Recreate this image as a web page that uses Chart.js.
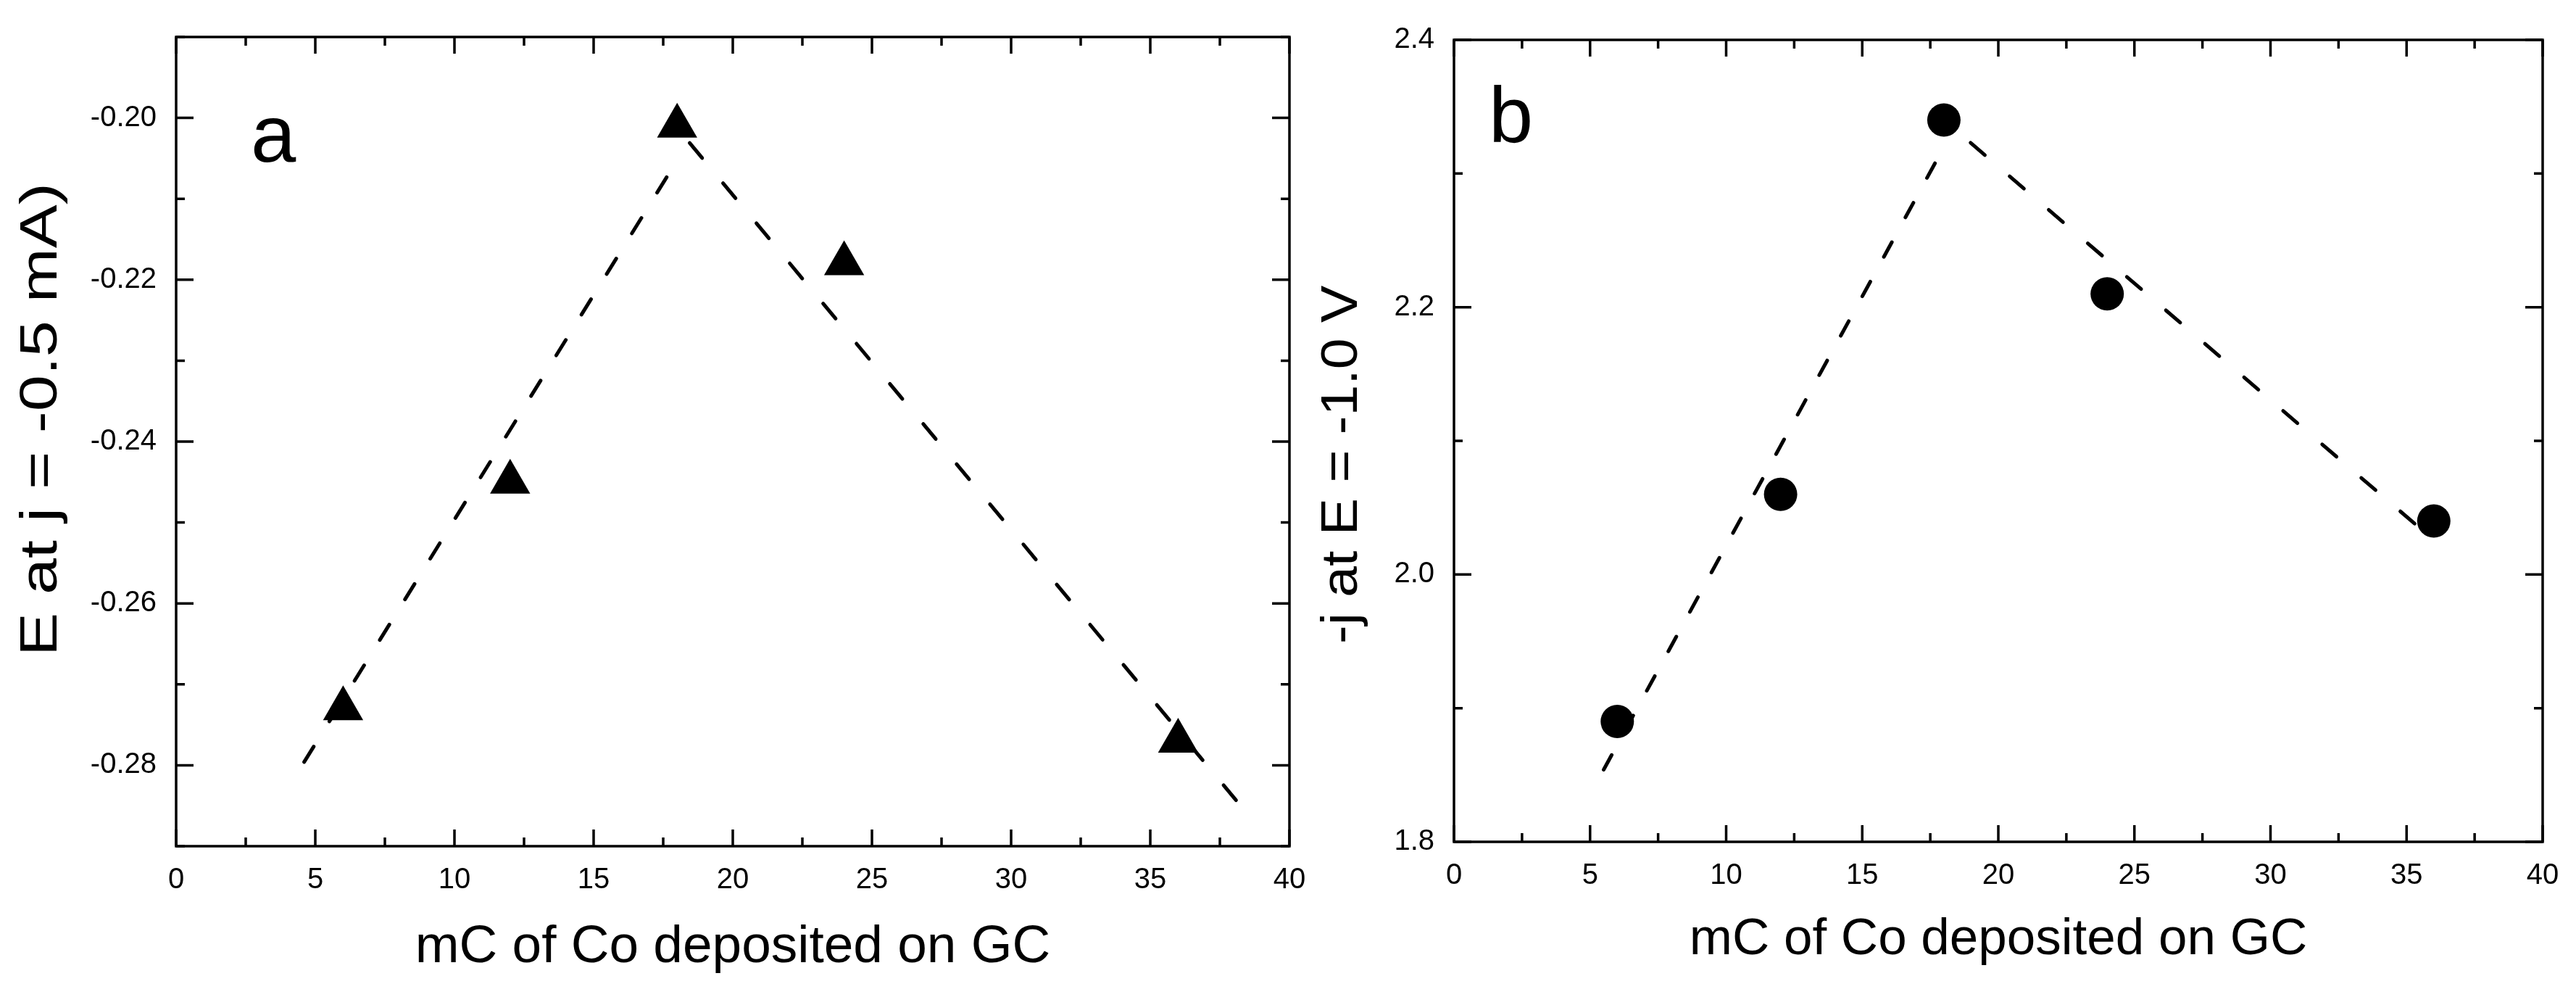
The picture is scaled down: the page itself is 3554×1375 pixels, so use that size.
<!DOCTYPE html>
<html><head><meta charset="utf-8">
<script src="https://cdn.jsdelivr.net/npm/chart.js@4.4.1/dist/chart.umd.min.js"></script>
<style>
html,body{margin:0;padding:0;background:#fff;}
#wrap{position:relative;width:3554px;height:1375px;overflow:hidden;background:#fff;}
canvas{position:absolute;left:0;top:0;}
</style></head><body>
<div id="wrap"><canvas id="ca" width="3554" height="1375"></canvas><canvas id="cb" width="3554" height="1375"></canvas></div>
<script>
const FONT = '"Liberation Sans", Arial, Helvetica, sans-serif';

// ---- data ----
const chargeMC = [6, 12, 18, 24, 36];                       // mC of Co deposited on GC
const potentialE = [-0.273, -0.245, -0.201, -0.218, -0.277]; // panel a: E at j = -0.5 mA
const currentJ = [1.89, 2.06, 2.34, 2.21, 2.04];            // panel b: -j at E = -1.0 V

// dashed guide lines (two segments per panel)
const fitARiseX = [4.6, 17.9],   fitARiseY = [-0.2796, -0.2058];
const fitAFallX = [18.45, 38.1], fitAFallY = [-0.2031, -0.2844];
const fitBRiseX = [5.5, 17.95],  fitBRiseY = [1.854, 2.318];
const fitBFallX = [18.98, 35.7], fitBFallY = [2.323, 2.031];

// axes
const xMin = 0, xMax = 40, xStep = 2.5, xMajorEvery = 5;
const yMinA = -0.29, yMaxA = -0.19, yStepA = 0.01;
const yMinB = 1.8, yMaxB = 2.4, yStepB = 0.1;

const xTitle = 'mC of Co deposited on GC';
const yTitleA = 'E at j = -0.5 mA)';
const yTitleB = '-j at E = -1.0 V';
const panelA = 'a', panelB = 'b';

// ---- helpers ----
const pts = (xs, ys) => xs.map((x, i) => ({x: x, y: ys[i]}));
const isMajorX = v => Math.abs(v / xMajorEvery - Math.round(v / xMajorEvery)) < 1e-6;
const isMajorYA = v => Math.abs(Math.round(v * 100)) % 2 === 0;
const isMajorYB = v => Math.abs(Math.round(v * 10)) % 2 === 0;

const frame = {
  id: 'frame',
  afterDatasetsDraw(chart, args, o) {
    const {ctx, chartArea: a} = chart;
    const x = chart.scales.x, y = chart.scales.y;
    ctx.save();
    ctx.strokeStyle = '#000';
    ctx.lineCap = 'butt';
    ctx.lineWidth = 3.5;
    x.ticks.forEach(t => {
      const p = x.getPixelForValue(t.value);
      const L = o.isMajorX(t.value) ? 23 : 12;
      ctx.beginPath();
      ctx.moveTo(p, a.bottom); ctx.lineTo(p, a.bottom - L);
      ctx.moveTo(p, a.top); ctx.lineTo(p, a.top + L);
      ctx.stroke();
    });
    y.ticks.forEach(t => {
      const p = y.getPixelForValue(t.value);
      const L = o.isMajorY(t.value) ? 24 : 12;
      ctx.beginPath();
      ctx.moveTo(a.left, p); ctx.lineTo(a.left + L, p);
      ctx.moveTo(a.right, p); ctx.lineTo(a.right - L, p);
      ctx.stroke();
    });
    ctx.strokeRect(a.left, a.top, a.right - a.left, a.bottom - a.top);
    // y title (reads bottom to top, glyphs elongated along the text as in the original)
    ctx.fillStyle = '#000';
    ctx.font = o.yTitleSize + 'px ' + FONT;
    ctx.textAlign = 'left';
    ctx.textBaseline = 'alphabetic';
    ctx.translate(o.yTitleX, o.yTitleStartY);
    ctx.rotate(-Math.PI / 2);
    ctx.scale(o.yTitleStretch, 1);
    ctx.fillText(o.yTitle, 0, 0);
    ctx.setTransform(1, 0, 0, 1, 0, 0);
    // panel letter
    ctx.font = o.panelSize + 'px ' + FONT;
    ctx.textAlign = 'left';
    ctx.fillText(o.panel, a.left + o.panelDX, a.top + o.panelDY);
    ctx.restore();
  }
};

function makeChart(id, cfg) {
  return new Chart(document.getElementById(id), {
    type: 'scatter',
    data: {
      datasets: [
        {data: pts(chargeMC, cfg.values), pointStyle: cfg.marker, pointRadius: cfg.markerR,
         pointHoverRadius: cfg.markerR, backgroundColor: '#000', borderColor: '#000',
         borderWidth: 0, showLine: false, order: 0},
        {type: 'line', data: pts(cfg.riseX, cfg.riseY), borderColor: '#000', borderWidth: 5,
         borderDash: cfg.dashRise, borderCapStyle: 'round', pointRadius: 0, fill: false, order: 1},
        {type: 'line', data: pts(cfg.fallX, cfg.fallY), borderColor: '#000', borderWidth: 5,
         borderDash: cfg.dashFall, borderCapStyle: 'round', pointRadius: 0, fill: false, order: 1}
      ]
    },
    options: {
      responsive: false, animation: false, devicePixelRatio: 1,
      layout: {padding: cfg.padding},
      plugins: {legend: {display: false}, tooltip: {enabled: false},
        frame: {isMajorX: isMajorX, isMajorY: cfg.isMajorY, yTitle: cfg.yTitle,
          yTitleX: cfg.yTitleX, yTitleStartY: cfg.yTitleStartY, yTitleSize: cfg.yTitleSize,
          yTitleStretch: cfg.yTitleStretch,
          panel: cfg.panel, panelSize: cfg.panelSize, panelDX: cfg.panelDX, panelDY: cfg.panelDY}},
      scales: {
        x: {type: 'linear', min: xMin, max: xMax,
          grid: {display: false, drawTicks: false}, border: {display: false},
          ticks: {stepSize: xStep, autoSkip: false, maxTicksLimit: 100, maxRotation: 0,
            padding: 23, color: '#000', font: {family: FONT, size: 40},
            callback: v => isMajorX(v) ? String(v) : ''},
          title: {display: true, text: xTitle, color: '#000',
            font: {family: FONT, size: cfg.xTitleSize, lineHeight: 1},
            padding: {top: 0, bottom: cfg.xTitlePad}},
          afterFit: s => { s.height = cfg.xHeight; }},
        y: {type: 'linear', min: cfg.yMin, max: cfg.yMax,
          grid: {display: false, drawTicks: false}, border: {display: false},
          ticks: {stepSize: cfg.yStep, autoSkip: false, maxTicksLimit: 100,
            padding: 27, color: '#000', font: {family: FONT, size: 40},
            callback: v => cfg.isMajorY(v) ? v.toFixed(cfg.dec) : ''},
          afterFit: s => { s.width = cfg.yWidth; }}
      }
    },
    plugins: [frame]
  });
}

makeChart('ca', {
  values: potentialE, marker: 'triangle', markerR: 32,
  riseX: fitARiseX, riseY: fitARiseY, fallX: fitAFallX, fallY: fitAFallY,
  dashRise: [25, 41], dashFall: [27, 45],
  padding: {left: 0, top: 42, right: 3554 - 1779, bottom: 0},
  yWidth: 243, xHeight: 1375 - 1167,
  yMin: yMinA, yMax: yMaxA, yStep: yStepA, dec: 2, isMajorY: isMajorYA,
  xTitleSize: 73, xTitlePad: 32,
  yTitle: yTitleA, yTitleX: 78, yTitleStartY: 905, yTitleSize: 72, yTitleStretch: 1.25,
  panel: panelA, panelSize: 112, panelDX: 103, panelDY: 172
});

makeChart('cb', {
  values: currentJ, marker: 'circle', markerR: 23,
  riseX: fitBRiseX, riseY: fitBRiseY, fallX: fitBFallX, fallY: fitBFallY,
  dashRise: [23, 39], dashFall: [26, 45],
  padding: {left: 1780, top: 55, right: 3554 - 3508, bottom: 0},
  yWidth: 2006 - 1780, xHeight: 1375 - 1161,
  yMin: yMinB, yMax: yMaxB, yStep: yStepB, dec: 1, isMajorY: isMajorYB,
  xTitleSize: 71, xTitlePad: 43,
  yTitle: yTitleB, yTitleX: 1872, yTitleStartY: 888, yTitleSize: 70, yTitleStretch: 1.1,
  panel: panelB, panelSize: 110, panelDX: 48, panelDY: 141
});
</script>
</body></html>
